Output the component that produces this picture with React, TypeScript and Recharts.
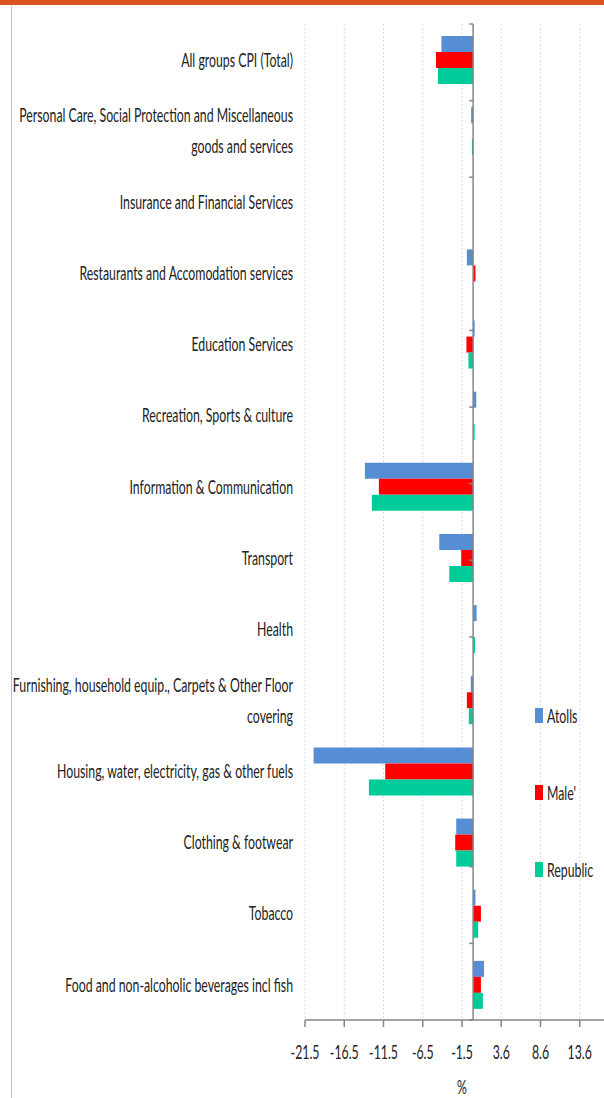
import React from 'react';
import { BarChart, Bar, XAxis, YAxis, CartesianGrid, ReferenceLine, Legend } from 'recharts';

const CATEGORIES = [
  'All groups CPI (Total)',
  'Personal Care, Social Protection and Miscellaneous goods and services',
  'Insurance and Financial Services',
  'Restaurants and Accomodation services',
  'Education Services',
  'Recreation, Sports & culture ',
  'Information & Communication',
  'Transport',
  'Health',
  'Furnishing, household equip., Carpets & Other Floor covering',
  'Housing, water, electricity, gas & other fuels',
  'Clothing & footwear',
  'Tobacco',
  'Food and non-alcoholic beverages incl fish',
];

const ATOLLS = [-4.05, -0.25, 0, -0.8, 0.2, 0.4, -13.84, -4.33, 0.45, -0.3, -20.4, -2.16, 0.3, 1.4];
const MALE = [-4.75, 0, 0, 0.3, -0.85, 0, -12.05, -1.52, 0, -0.8, -11.24, -2.29, 1.0, 1.0];
const REPUBLIC = [-4.5, -0.15, 0, 0, -0.6, 0.2, -12.95, -3.05, 0.25, -0.55, -13.33, -2.16, 0.65, 1.25];

const X_TICKS = [-21.5, -16.48, -11.46, -6.44, -1.42, 3.6, 8.62, 13.64];
const X_LABELS = ['-21.5', '-16.5', '-11.5', '-6.5', '-1.5', '3.6', '8.6', '13.6'];
const X_DOMAIN: [number, number] = [-21.5, 18.66];
const X_TITLE = '%';

const SERIES = [
  { key: 'atolls', name: 'Atolls', color: '#558ed5' },
  { key: 'male', name: "Male'", color: '#ff0000' },
  { key: 'republic', name: 'Republic', color: '#00cc99' },
];

const data = CATEGORIES.map((c, i) => ({
  name: c,
  atolls: ATOLLS[i],
  male: MALE[i],
  republic: REPUBLIC[i],
}));

const BOUNDS = Array.from({ length: CATEGORIES.length + 1 }, (_, i) => i);

const FONT = 'Lato, "Open Sans", sans-serif';
const FS = 20;
const SX = 0.615;
const TEXT = '#222222';

function wrap(s: string, max = 51): string[] {
  const words = s.trim().split(' ');
  const lines: string[] = [];
  let cur = '';
  for (const w of words) {
    const t = cur ? cur + ' ' + w : w;
    if (t.length > max && cur) {
      lines.push(cur);
      cur = w;
    } else cur = t;
  }
  if (cur) lines.push(cur);
  return lines;
}

const YTick = (props: any) => {
  const { y, payload } = props;
  const lines = wrap(String(payload.value));
  const lh = 31;
  const y0 = y - ((lines.length - 1) * lh) / 2;
  return (
    <g transform={`translate(293, ${y0}) scale(${SX},1)`}>
      <text textAnchor="end" fontFamily={FONT} fontSize={FS} fill={TEXT}>
        {lines.map((l, i) => (
          <tspan key={i} x={0} y={i * lh} dy="0.36em">
            {l}
          </tspan>
        ))}
      </text>
    </g>
  );
};

const XTick = (props: any) => {
  const { x, payload } = props;
  const idx = X_TICKS.indexOf(payload.value);
  return (
    <g transform={`translate(${x}, 1052) scale(${SX},1)`}>
      <text textAnchor="middle" dy="0.36em" fontFamily={FONT} fontSize={FS} fill={TEXT}>
        {X_LABELS[idx]}
      </text>
    </g>
  );
};

const LegendContent = () => (
  <div style={{ position: 'relative', width: 80, height: 200 }}>
    {SERIES.map((s, i) => (
      <div
        key={s.key}
        style={{ position: 'absolute', left: 0, top: i * 77, height: 30, display: 'flex', alignItems: 'center' }}
      >
        <span style={{ display: 'inline-block', width: 8, height: 15, background: s.color }} />
        <span
          style={{
            display: 'inline-block',
            marginLeft: 4,
            fontFamily: FONT,
            fontSize: FS,
            color: TEXT,
            transform: `scale(${SX},1)`,
            transformOrigin: 'left center',
            whiteSpace: 'nowrap',
          }}
        >
          {s.name}
        </span>
      </div>
    ))}
  </div>
);

export default function App() {
  return (
    <div style={{ position: 'absolute', left: 0, top: 0, width: 604, height: 1098, overflow: 'hidden', background: '#fff' }}>
      <div style={{ position: 'absolute', left: 0, top: 0, width: 604, height: 5, background: '#d9531e' }} />
      <div style={{ position: 'absolute', left: 11, top: 6, width: 1, height: 1092, background: '#bfbfbf' }} />
      <div style={{ position: 'absolute', left: 0, top: 0 }}>
        <BarChart
          width={625}
          height={1098}
          data={data}
          layout="vertical"
          margin={{ top: 24, right: 6, bottom: 0, left: 0 }}
          barCategoryGap={12}
          barGap={0}
        >
          <CartesianGrid horizontal={false} vertical stroke="#d5deee" strokeDasharray="2 2" />
          <XAxis
            type="number"
            domain={X_DOMAIN}
            ticks={X_TICKS}
            interval={0}
            height={78}
            stroke="#868686"
            strokeWidth={1.5}
            tickSize={7}
            tick={<XTick />}
            allowDataOverflow
          />
          <YAxis
            type="category"
            dataKey="name"
            width={305}
            axisLine={false}
            tickLine={false}
            interval={0}
            tick={<YTick />}
          />
          <YAxis
            yAxisId="grid"
            type="number"
            domain={[0, CATEGORIES.length]}
            ticks={BOUNDS}
            allowDataOverflow
            hide
          />
          <Legend
            layout="vertical"
            verticalAlign="middle"
            align="center"
            wrapperStyle={{ position: 'absolute', left: 535, top: 700, width: 80, height: 200 }}
            content={<LegendContent />}
          />
          {SERIES.map((s) => (
            <Bar key={s.key} dataKey={s.key} name={s.name} fill={s.color} isAnimationActive={false} />
          ))}
          <ReferenceLine x={0} stroke="#868686" strokeWidth={1.5} />
          {BOUNDS.map((b) => (
            <ReferenceLine
              key={b}
              yAxisId="grid"
              segment={[
                { x: -0.5, y: b },
                { x: 0, y: b },
              ]}
              stroke="#868686"
              strokeWidth={1.5}
              ifOverflow="discard"
            />
          ))}
        </BarChart>
      </div>
      <div
        style={{
          position: 'absolute',
          left: 442,
          top: 1074,
          width: 40,
          textAlign: 'center',
          fontFamily: FONT,
          fontSize: FS,
          lineHeight: '24px',
          color: TEXT,
          transform: `scale(${SX},1)`,
        }}
      >
        {X_TITLE}
      </div>
    </div>
  );
}
